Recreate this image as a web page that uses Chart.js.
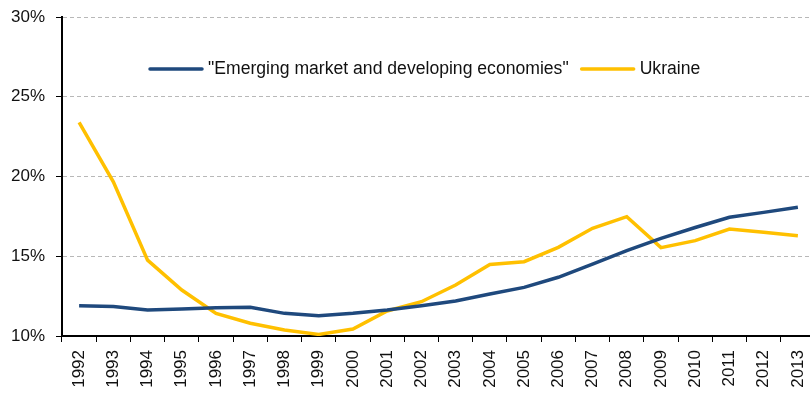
<!DOCTYPE html>
<html>
<head>
<meta charset="utf-8">
<script src="https://cdn.jsdelivr.net/npm/chart.js@4.4.1/dist/chart.umd.min.js"></script>
<style>
    html, body {margin: 0; padding: 0; background: #fff; overflow: hidden;}
    #wrap {width: 816px; height: 393px; position: relative;}
</style>
</head>
<body>
<div id="wrap"><canvas id="chart"></canvas></div>
<script>
// Years on the x axis
let years = ["1992","1993","1994","1995","1996","1997","1998","1999","2000","2001","2002",
             "2003","2004","2005","2006","2007","2008","2009","2010","2011","2012","2013"];

// Series values, percent
let emergingValues = [11.9, 11.85, 11.63, 11.7, 11.77, 11.8, 11.42, 11.27, 11.42, 11.63, 11.9,
                      12.2, 12.63, 13.05, 13.68, 14.5, 15.35, 16.12, 16.8, 17.44, 17.75, 18.07];
let ukraineValues = [23.4, 19.67, 14.76, 12.88, 11.42, 10.8, 10.38, 10.1, 10.44, 11.57, 12.15,
                     13.2, 14.49, 14.66, 15.56, 16.75, 17.48, 15.54, 15.98, 16.71, 16.5, 16.29];

let emergingLabel = '"Emerging market and developing economies"';
let ukraineLabel = "Ukraine";

// y axis tick values
let yTicks = [10, 15, 20, 25, 30];

let navy = "#1f497d";
let gold = "#ffc000";

// Legend drawn inside the plot area, near the top
const insideLegend = {
    id: "insideLegend",
    afterDatasetsDraw(chart) {
        let ctx = chart.ctx;
        let y = 69;
        let x = 150;
        ctx.save();
        ctx.font = "17.6px 'Liberation Sans', Arial, sans-serif";
        ctx.textBaseline = "middle";
        chart.data.datasets.forEach(ds => {
            ctx.strokeStyle = ds.borderColor;
            ctx.lineWidth = 3.5;
            ctx.lineCap = "round";
            ctx.beginPath();
            ctx.moveTo(x, y);
            ctx.lineTo(x + 52, y);
            ctx.stroke();
            x += 58;
            ctx.fillStyle = "#111";
            ctx.fillText(ds.label, x, y);
            x += ctx.measureText(ds.label).width + 13;
        });
        ctx.restore();
    }
};

let chart = new Chart(document.getElementById("chart"), {
    type: "line",
    data: {
        labels: years,
        datasets: [
            {label: emergingLabel, data: emergingValues, borderColor: navy, backgroundColor: navy,
             borderWidth: 3.5, pointRadius: 0, tension: 0},
            {label: ukraineLabel, data: ukraineValues, borderColor: gold, backgroundColor: gold,
             borderWidth: 3.5, pointRadius: 0, tension: 0}
        ]
    },
    options: {
        responsive: true,
        maintainAspectRatio: false,
        animation: false,
        layout: {padding: {top: 17, right: 1, left: 0, bottom: 0}},
        plugins: {
            legend: {display: false},
            tooltip: {enabled: false}
        },
        scales: {
            x: {
                offset: true,
                border: {display: true, color: "#000", width: 2},
                grid: {drawOnChartArea: false, drawTicks: true, tickLength: 6, color: "#000", offset: true},
                ticks: {
                    color: "#111",
                    font: {family: "'Liberation Sans', Arial, sans-serif", size: 17},
                    minRotation: 90, maxRotation: 90, autoSkip: false, padding: 8
                },
                afterFit(scale) {
                    scale.height = 57;
                    scale.paddingLeft = 0;
                    scale.paddingRight = 0;
                }
            },
            y: {
                min: 10, max: 30,
                border: {display: true, color: "#000", width: 2, dash: [4, 3]},
                grid: {
                    color: ctx => ctx.tick && ctx.tick.value === 10 ? "rgba(0,0,0,0)" : "#b8b8b8",
                    lineWidth: 1,
                    drawTicks: true, tickLength: 6, tickColor: "#000", tickBorderDash: []
                },
                afterBuildTicks(scale) { scale.ticks = yTicks.map(v => ({value: v})); },
                ticks: {
                    color: "#111",
                    font: {family: "'Liberation Sans', Arial, sans-serif", size: 17},
                    padding: 11,
                    callback: v => v + "%"
                },
                afterFit(scale) {
                    scale.width = 62;
                    scale.paddingTop = 0;
                    scale.paddingBottom = 0;
                }
            }
        }
    },
    plugins: [insideLegend]
});
</script>
</body>
</html>
